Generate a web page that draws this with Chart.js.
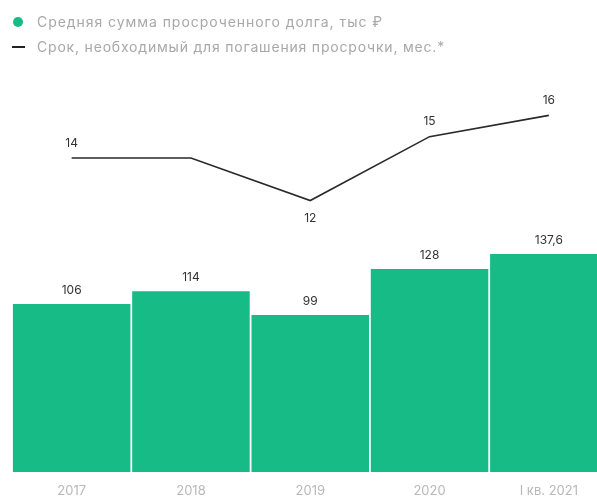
<!DOCTYPE html>
<html><head><meta charset="utf-8">
<script src="https://cdn.jsdelivr.net/npm/chart.js@4.4.0/dist/chart.umd.min.js"></script>
<style>
html,body{margin:0;padding:0;background:#fff;overflow:hidden;width:597px;height:497px;}
#wrap{position:relative;width:597px;height:497px;overflow:hidden;}
#cv{position:absolute;left:0;top:0;}
.leg{position:absolute;left:37px;font-family:Inter,"Open Sans",sans-serif;font-size:14px;color:#a8a8a8;line-height:16px;white-space:nowrap;}
.dot{position:absolute;left:13px;top:17px;width:10px;height:10px;border-radius:50%;background:#17bb85;}
.dash{position:absolute;left:12px;top:46px;width:13px;height:2px;background:#222;}
</style></head>
<body>
<div id="wrap">
<canvas id="cv" width="612" height="497" style="width:612px;height:497px"></canvas>
<div class="dot"></div><div class="leg" id="l1" style="top:14px"></div>
<div class="dash"></div><div class="leg" id="l2" style="top:39px"></div>
</div>
<script>
const categories = ["2017", "2018", "2019", "2020", "I кв. 2021"];
const debtValues = [106, 114, 99, 128, 137.6];
const termValues = [14, 14, 12, 15, 16];
const seriesNames = ["Средняя сумма просроченного долга, тыс ₽", "Срок, необходимый для погашения просрочки, мес.*"];

function fitText(el, text, target) {
  el.textContent = text;
  const w = el.getBoundingClientRect().width;
  el.style.letterSpacing = ((target - w) / text.length) + 'px';
}
fitText(document.getElementById('l1'), seriesNames[0], 346);
fitText(document.getElementById('l2'), seriesNames[1], 408);

const fmt = v => String(v).replace('.', ',');

const labelPlugin = {
  id: 'vlabels',
  afterDatasetsDraw(chart) {
    const ctx = chart.ctx;
    ctx.save();
    ctx.font = '12px Inter, "Open Sans", sans-serif';
    ctx.fillStyle = '#333';
    ctx.textAlign = 'center';
    ctx.textBaseline = 'middle';
    chart.getDatasetMeta(0).data.forEach((el, i) => {
      ctx.fillText(fmt(debtValues[i]), el.x, el.y - 14);
    });
    const pts = chart.getDatasetMeta(1).data;
    pts.forEach((el, i) => {
      const v = termValues[i];
      if (i > 0 && termValues[i - 1] === v) return;
      const prev = i > 0 ? termValues[i - 1] : Infinity;
      const next = i < termValues.length - 1 ? termValues[i + 1] : Infinity;
      const below = v < prev && v < next;
      ctx.fillText(fmt(v), el.x, below ? el.y + 18 : el.y - 15);
    });
    ctx.restore();
  }
};

new Chart(document.getElementById('cv'), {
  data: {
    labels: categories,
    datasets: [
      {
        type: 'bar', label: seriesNames[0], data: debtValues, yAxisID: 'y',
        backgroundColor: '#17bb85', barPercentage: 0.985, categoryPercentage: 1, order: 2
      },
      {
        type: 'line', label: seriesNames[1], data: termValues, yAxisID: 'y1',
        borderColor: '#2a2a2a', borderWidth: 1.6, pointRadius: 0, tension: 0, fill: false, order: 1
      }
    ]
  },
  options: {
    responsive: false,
    animation: false,
    devicePixelRatio: 1,
    layout: { padding: { left: 12, right: 3.5, top: 90, bottom: 0 } },
    plugins: { legend: { display: false }, tooltip: { enabled: false } },
    scales: {
      x: {
        grid: { display: false, drawTicks: false }, border: { display: false },
        ticks: { color: '#b8b8b8', padding: 11, maxRotation: 0, autoSkip: false, font: { size: 13, family: 'Inter, "Open Sans", sans-serif' } },
        afterFit(scale) { scale.height = 25; }
      },
      y: { display: false, min: 0, max: 241 },
      y1: { display: false, min: -0.74, max: 17.19 }
    }
  },
  plugins: [labelPlugin]
});
</script>
</body></html>
